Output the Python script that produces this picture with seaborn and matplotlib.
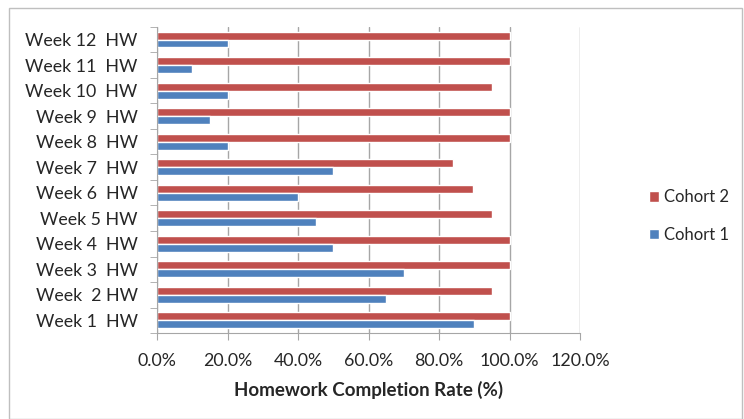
import numpy as np
import pandas as pd
import matplotlib.pyplot as plt
import seaborn as sns
from matplotlib.ticker import PercentFormatter, FixedLocator
from matplotlib.patches import Rectangle

weeks = ['Week 12  HW', 'Week 11  HW', 'Week 10  HW', 'Week 9  HW', 'Week 8  HW',
         'Week 7  HW', 'Week 6  HW', 'Week 5 HW', 'Week 4  HW', 'Week 3  HW',
         'Week  2 HW', 'Week 1  HW']
cohort2 = [1.00, 1.00, 0.95, 1.00, 1.00, 0.84, 0.895, 0.95, 1.00, 1.00, 0.95, 1.00]
cohort1 = [0.20, 0.10, 0.20, 0.15, 0.20, 0.50, 0.40, 0.45, 0.50, 0.70, 0.65, 0.90]

df = pd.concat([
    pd.DataFrame({'Week': weeks, 'Rate': cohort2, 'Cohort': 'Cohort 2'}),
    pd.DataFrame({'Week': weeks, 'Rate': cohort1, 'Cohort': 'Cohort 1'}),
])

sns.set_style('white')
plt.rcParams['font.family'] = ['Lato', 'DejaVu Sans']

fig = plt.figure(figsize=(7.44, 4.19), dpi=100)
ax = fig.add_axes([0.211, 0.205, 0.569, 0.731])

sns.barplot(data=df, y='Week', x='Rate', hue='Cohort', order=weeks,
            hue_order=['Cohort 2', 'Cohort 1'],
            palette={'Cohort 2': '#C0504D', 'Cohort 1': '#4F81BD'},
            width=0.62, orient='h', ax=ax, saturation=1, legend=True)

ax.set_xlim(0, 1.2)
ax.set_ylim(len(weeks) - 0.5, -0.5)
ax.xaxis.set_major_formatter(PercentFormatter(1.0, decimals=1))
ax.set_xticks(np.arange(0, 1.21, 0.2))
ax.grid(axis='x', color='#a6a6a6', linewidth=1)
ax.set_axisbelow(True)
for s in ['top', 'right']:
    ax.spines[s].set_visible(False)
for s in ['left', 'bottom']:
    ax.spines[s].set_color('#a6a6a6')
ax.tick_params(axis='x', length=5, color='#a6a6a6', labelsize=12.8, pad=9, direction='out', bottom=True)
ax.tick_params(axis='y', length=0, labelsize=12.8, pad=14)
ax.yaxis.set_minor_locator(FixedLocator(np.arange(-0.5, len(weeks), 1)))
ax.tick_params(axis='y', which='minor', length=5, color='#a6a6a6', left=True)
ax.set_ylabel('')
ax.set_xlabel('Homework Completion Rate (%)', fontsize=13.5, fontweight='bold', labelpad=9)
for lbl in ax.get_xticklabels() + ax.get_yticklabels():
    lbl.set_color('#262626')

ax.legend(loc='center left', bbox_to_anchor=(0.872, 0.484), bbox_transform=fig.transFigure,
          frameon=False, fontsize=12, handlelength=0.6, handleheight=0.6,
          handletextpad=0.3, labelspacing=1.3, borderpad=0, borderaxespad=0)

fig.patches.append(Rectangle((0.012, 0.0), 0.985, 0.98, transform=fig.transFigure,
                             fill=False, edgecolor='#bfbfbf', linewidth=1))

fig.savefig('out.png', dpi=100)
